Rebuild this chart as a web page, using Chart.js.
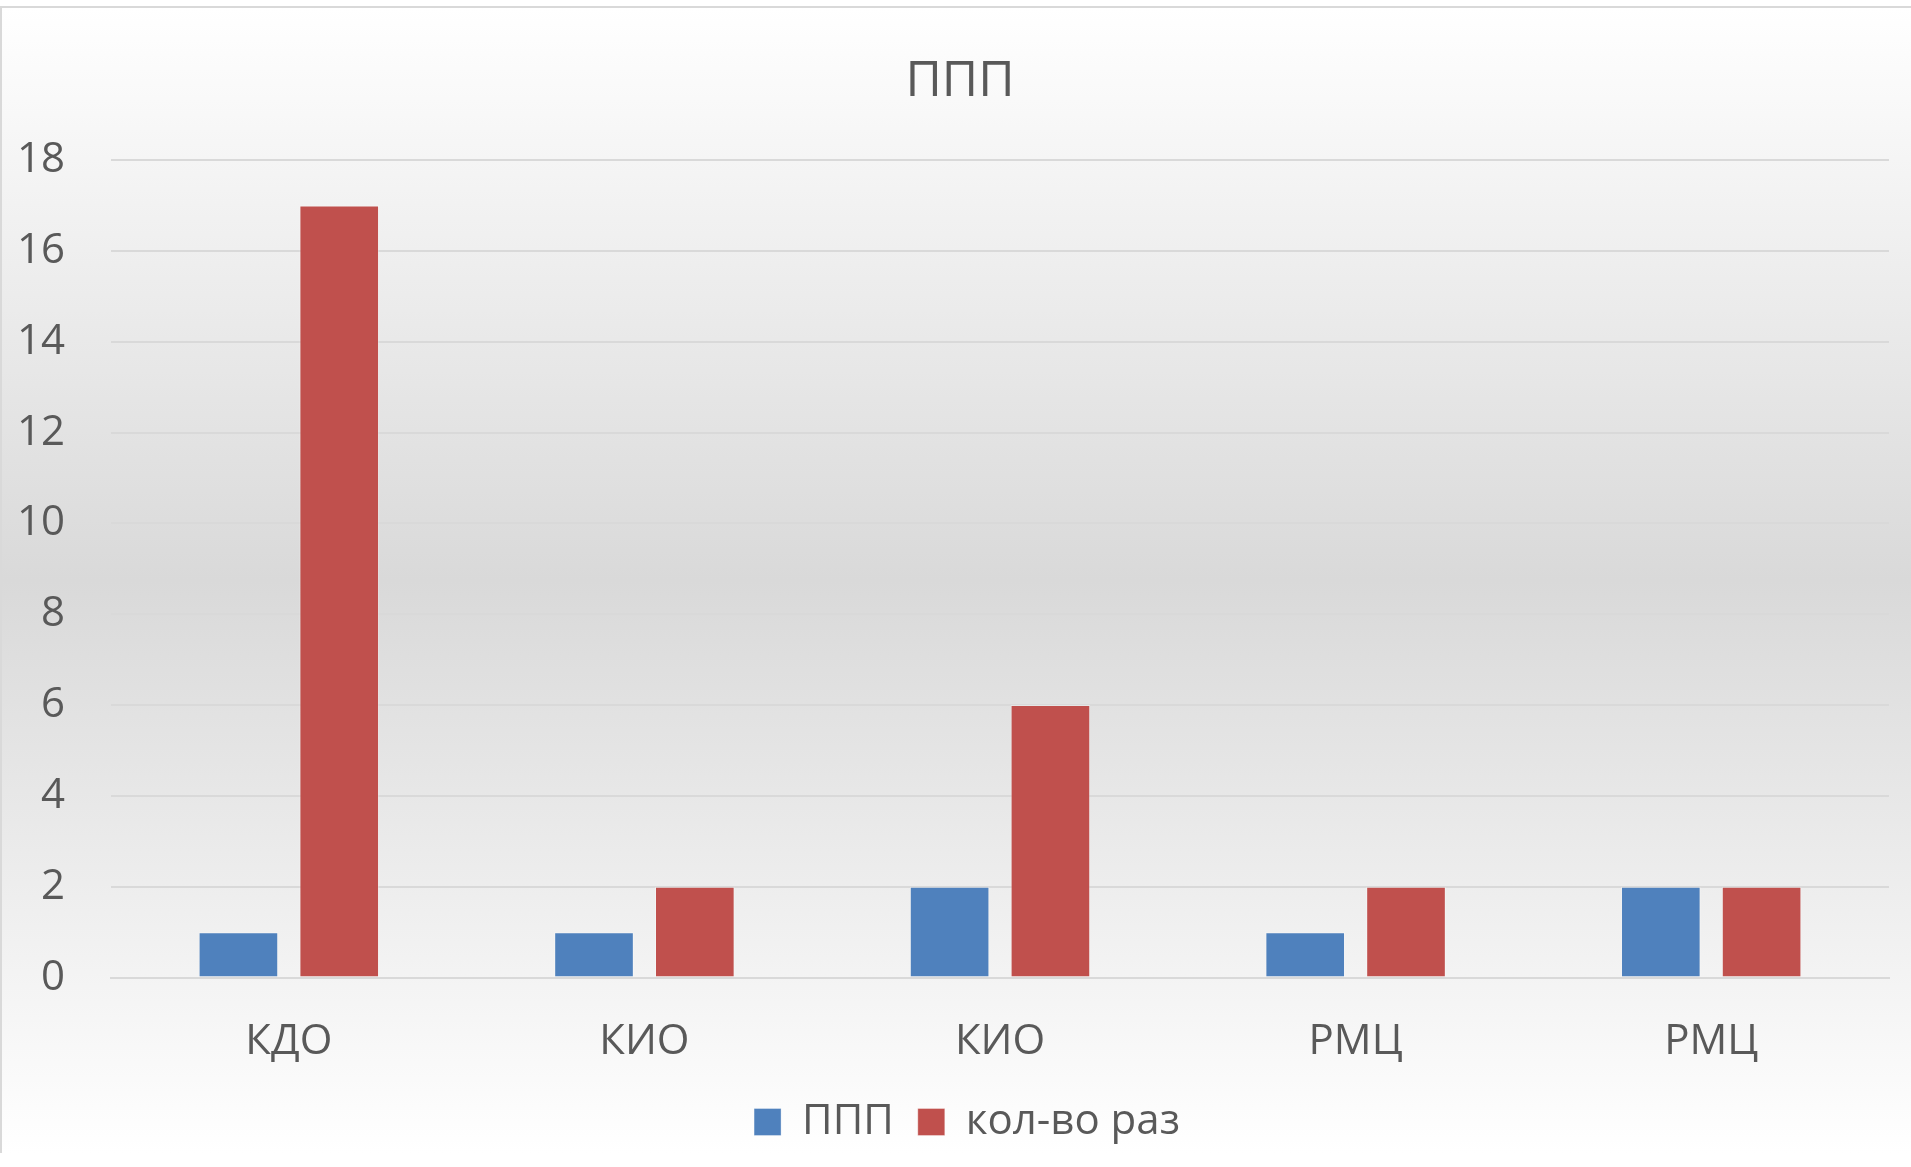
<!DOCTYPE html>
<html>
<head>
<meta charset="utf-8">
<script src="https://cdn.jsdelivr.net/npm/chart.js@4.4.1/dist/chart.umd.min.js"></script>
<style>
    html, body { margin: 0; padding: 0; background: #ffffff; overflow: hidden; }
    #wrap {
        position: absolute;
        left: 0;
        top: 6px;
        width: 1930px;
        height: 1145px;
        border-top: 2px solid #d9d9d9;
        border-left: 2px solid #d9d9d9;
    }
    canvas { display: block; }
</style>
</head>
<body>
<div id="wrap"><canvas id="myChart" width="1909" height="1145"></canvas></div>
<script>
const categories = ["КДО", "КИО", "КИО", "РМЦ", "РМЦ"];
const pppValues = [1, 1, 2, 1, 2];
const timesValues = [17, 2, 6, 2, 2];
const yTicks = [0, 2, 4, 6, 8, 10, 12, 14, 16, 18];

const textColor = "#595959";
const fontFamily = "'Open Sans', sans-serif";

const ctx = document.getElementById("myChart");

// excel style gradient fill behind the whole chart
const bgGradient = {
    id: "bgGradient",
    beforeDraw(chart) {
        const c = chart.ctx;
        const h = chart.height;
        const g = c.createLinearGradient(0, 0, 0, h);
        g.addColorStop(0, "#ffffff");
        g.addColorStop(0.5, "#d9d9d9");
        g.addColorStop(1, "#ffffff");
        c.save();
        c.fillStyle = g;
        c.fillRect(0, 0, chart.width, h);
        c.restore();
    },
};

// title and legend are centred on the whole chart in excel, not on the padded box
const recenter = {
    id: "recenter",
    afterLayout(chart) {
        const shift = (box, d) => {
            if (!box) return;
            box.left += d;
            box.right += d;
        };
        shift(chart.titleBlock, 7);
        shift(chart.legend, 14);
    },
};

const data = {
    labels: categories,
    datasets: [
        {
            label: "ППП",
            data: pppValues,
            backgroundColor: "#4f81bd",
            borderColor: "rgba(255,255,255,0.35)",
            borderWidth: 1,
            barPercentage: 0.79,
            categoryPercentage: 0.567,
        },
        {
            label: "кол-во раз",
            data: timesValues,
            backgroundColor: "#c0504d",
            borderColor: "rgba(255,255,255,0.35)",
            borderWidth: 1,
            barPercentage: 0.79,
            categoryPercentage: 0.567,
        },
    ],
};

const myChart = new Chart(ctx, {
    type: "bar",
    data: data,
    plugins: [bgGradient, recenter],
    options: {
        responsive: false,
        animation: false,
        layout: {
            padding: { left: 15, right: 22, top: 0, bottom: 0 },
        },
        plugins: {
            tooltip: { enabled: false },
            title: {
                display: true,
                text: "ППП",
                color: textColor,
                font: { family: fontFamily, size: 50, weight: "normal" },
                padding: { top: 44, bottom: 48 },
            },
            legend: {
                position: "bottom",
                labels: {
                    color: textColor,
                    font: { family: fontFamily, size: 42 },
                    boxWidth: 27,
                    boxHeight: 27,
                    padding: 24,
                },
            },
        },
        scales: {
            x: {
                afterFit(axis) {
                    // tighten gap between the category labels and the legend
                    axis.height -= 21;
                },
                grid: { display: false },
                border: { display: true, color: "#d9d9d9", width: 2 },
                ticks: {
                    color: textColor,
                    font: { family: fontFamily, size: 42 },
                    padding: 31,
                },
            },
            y: {
                min: 0,
                max: 18,
                afterBuildTicks(axis) {
                    axis.ticks = yTicks.map((v) => ({ value: v }));
                },
                afterFit(axis) {
                    axis.width -= 46;
                },
                grid: {
                    color: "#d9d9d9",
                    lineWidth: 2,
                    drawTicks: false,
                },
                border: { display: false },
                ticks: {
                    color: textColor,
                    font: { family: fontFamily, size: 42 },
                    padding: 46,
                },
            },
        },
    },
});
</script>
</body>
</html>
